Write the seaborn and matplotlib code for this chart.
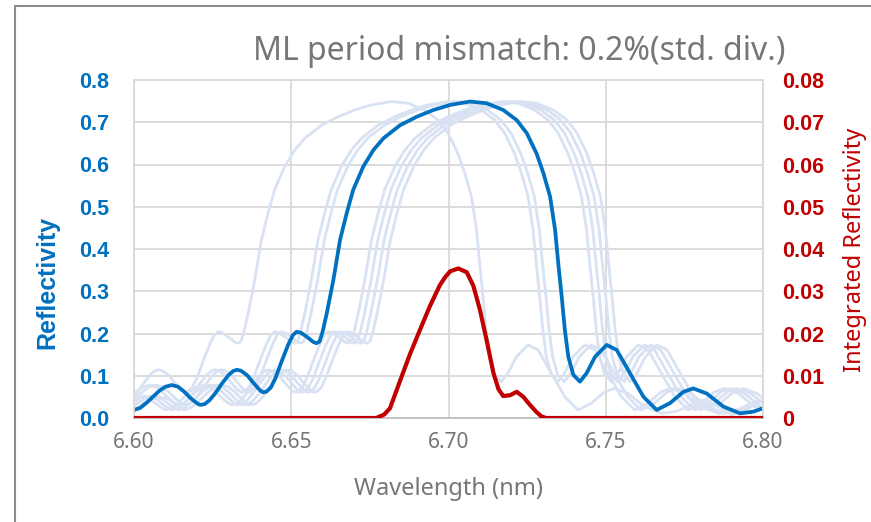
import numpy as np
import pandas as pd
import matplotlib
matplotlib.use("Agg")
import matplotlib.pyplot as plt
from matplotlib.lines import Line2D
import seaborn as sns

# --- dati ---
# curva principale (Reflectivity, asse sinistro)
main_wl = [6.600, 6.602, 6.604, 6.606, 6.608, 6.610, 6.612, 6.614, 6.616, 6.618,
           6.620, 6.621, 6.6225, 6.624, 6.626, 6.628, 6.630, 6.6315, 6.6327, 6.634,
           6.636, 6.638, 6.640, 6.641, 6.642, 6.6435, 6.645, 6.647, 6.649, 6.6505,
           6.6517, 6.653, 6.655, 6.657, 6.658, 6.659, 6.660, 6.6613, 6.6634, 6.6655,
           6.6676, 6.6697, 6.6729, 6.6761, 6.6793, 6.6846, 6.6899, 6.6952, 6.7005, 6.7068,
           6.7121, 6.7174, 6.7217, 6.7249, 6.728, 6.7302, 6.7323, 6.7339, 6.7349, 6.736,
           6.737, 6.7381, 6.7397, 6.7418, 6.7439, 6.7466, 6.7503, 6.7535, 6.7577, 6.762,
           6.7662, 6.7704, 6.7747, 6.7778, 6.7821, 6.7874, 6.7927, 6.7969, 6.800]
main_r = [0.019, 0.024, 0.036, 0.050, 0.064, 0.074, 0.078, 0.074, 0.062, 0.047,
          0.035, 0.031, 0.033, 0.042, 0.060, 0.082, 0.101, 0.111, 0.114, 0.112,
          0.101, 0.083, 0.066, 0.061, 0.062, 0.072, 0.095, 0.135, 0.173, 0.196,
          0.204, 0.202, 0.192, 0.180, 0.177, 0.181, 0.205, 0.248, 0.327, 0.421,
          0.484, 0.540, 0.595, 0.634, 0.662, 0.693, 0.713, 0.729, 0.741, 0.749,
          0.745, 0.729, 0.705, 0.674, 0.626, 0.579, 0.524, 0.445, 0.366, 0.287,
          0.208, 0.145, 0.102, 0.086, 0.106, 0.145, 0.173, 0.161, 0.106, 0.050,
          0.019, 0.035, 0.062, 0.070, 0.058, 0.027, 0.011, 0.015, 0.023]

# lobi laterali oltre i bordi (servono alle curve spostate)
lobe_lo_wl = [6.583, 6.587, 6.591, 6.595, 6.598]
lobe_lo_r = [0.012, 0.035, 0.052, 0.045, 0.028]
lobe_hi_wl = [6.803, 6.806, 6.810, 6.815, 6.819, 6.822, 6.826]
lobe_hi_r = [0.034, 0.042, 0.030, 0.008, 0.018, 0.030, 0.022]

# spostamenti delle curve chiare (periodo ML diverso)
ghost_shift = [-0.025, -0.007, -0.005, 0.010, 0.012, 0.014, 0.016]

# curva integrata (asse destro)
int_wl = [6.600, 6.677, 6.6795, 6.6814, 6.6846, 6.6878, 6.6909, 6.6941, 6.6973, 6.699,
          6.7005, 6.7031, 6.7058, 6.7079, 6.710, 6.7121, 6.7143, 6.7159, 6.7174, 6.7196,
          6.7217, 6.7238, 6.7259, 6.728, 6.7295, 6.731, 6.800]
int_r = [0.0, 0.0, 0.0008, 0.0023, 0.0088, 0.0152, 0.0208, 0.0265, 0.0315, 0.0334,
         0.0347, 0.0354, 0.0345, 0.0313, 0.0256, 0.0185, 0.0106, 0.0068, 0.0052, 0.0054,
         0.0062, 0.0050, 0.0031, 0.0014, 0.0004, 0.0, 0.0]

title = "ML period mismatch: 0.2%(std. div.)"
left_ticks = [0.0, 0.1, 0.2, 0.3, 0.4, 0.5, 0.6, 0.7, 0.8]
right_ticks = [0.0, 0.01, 0.02, 0.03, 0.04, 0.05, 0.06, 0.07, 0.08]
x_ticks = [6.60, 6.65, 6.70, 6.75, 6.80]

BLUE = "#0070C0"
RED = "#C00000"
GHOST = "#D9E2F3"
GRAY = "#767676"

sns.set_style("white")
plt.rcParams["font.family"] = ["Noto Sans", "DejaVu Sans"]

# tabella delle curve chiare
prof_wl = lobe_lo_wl + main_wl + lobe_hi_wl
prof_r = lobe_lo_r + main_r + lobe_hi_r
rows = []
for k, s in enumerate(ghost_shift):
    for w, r in zip(prof_wl, prof_r):
        rows.append({"run": k, "wl": w + s, "R": r})
ghost_df = pd.DataFrame(rows)

fig = plt.figure(figsize=(8.71, 5.22), dpi=100)
ax = fig.add_axes([134 / 871, 104 / 522, 629 / 871, 338 / 522])

line_kw = dict(solid_joinstyle="round", solid_capstyle="round")
sns.lineplot(data=ghost_df, x="wl", y="R", units="run", estimator=None, sort=False,
             color=GHOST, lw=2.0, ax=ax, **line_kw)
sns.lineplot(x=main_wl, y=main_r, sort=False, color=BLUE, lw=2.7, ax=ax, **line_kw)

ax.set_xlim(6.60, 6.80)
ax.set_ylim(0, 0.8)
ax.set_xticks(x_ticks)
ax.set_xticklabels([f"{v:.2f}" for v in x_ticks])
ax.set_yticks(left_ticks)
ax.set_yticklabels([f"{v:.1f}" for v in left_ticks])
ax.grid(True, color="#d9d9d9", lw=1.3)
for sp in ax.spines.values():
    sp.set_color("#d9d9d9")
    sp.set_linewidth(1.3)
ax.spines["bottom"].set_color("#bfbfbf")
ax.tick_params(axis="x", length=0, pad=10, labelsize=15, labelcolor=GRAY)
ax.tick_params(axis="y", length=0, pad=18, labelsize=15.5, labelcolor=BLUE)
for t in ax.get_yticklabels():
    t.set_fontweight("bold")
    t.set_family("Liberation Sans")

ax.set_xlabel("Wavelength (nm)", fontsize=17, color=GRAY)
ax.xaxis.label.set_va("center")
ax.xaxis.set_label_coords(0.5, -0.21)
ax.set_ylabel("Reflectivity", fontsize=18, color=BLUE, fontweight="bold",
              family="Liberation Sans")
ax.yaxis.label.set_va("center")
ax.yaxis.set_label_coords(-0.138, 0.402)

ax2 = ax.twinx()
sns.lineplot(x=int_wl, y=int_r, sort=False, color=RED, lw=3.0, ax=ax2, **line_kw)
ax2.set_ylim(0, 0.08)
ax2.set_yticks(right_ticks)
ax2.set_yticklabels(["0" if v == 0 else f"{v:.2f}" for v in right_ticks])
ax2.tick_params(axis="y", length=0, pad=14, labelsize=15.5, labelcolor=RED)
for t in ax2.get_yticklabels():
    t.set_fontweight("bold")
    t.set_family("Liberation Sans")
for sp in ax2.spines.values():
    sp.set_visible(False)
ax2.set_ylabel("Integrated Reflectivity", fontsize=17, color=RED, rotation=90)
ax2.yaxis.label.set_va("center")
ax2.yaxis.set_label_coords(1.146, 0.497)

ax.set_title(title, fontsize=23, color=GRAY, x=(519 - 134) / 629, y=1 + 20 / 338,
             va="center")

# cornice del riquadro
fig.add_artist(Line2D([15 / 871, 15 / 871], [0, 1 - 6 / 522], transform=fig.transFigure,
                      color="#8c8c8c", lw=1.5))
fig.add_artist(Line2D([15 / 871, 1], [1 - 6 / 522, 1 - 6 / 522], transform=fig.transFigure,
                      color="#8c8c8c", lw=1.5))

fig.savefig("out.png", dpi=100)
